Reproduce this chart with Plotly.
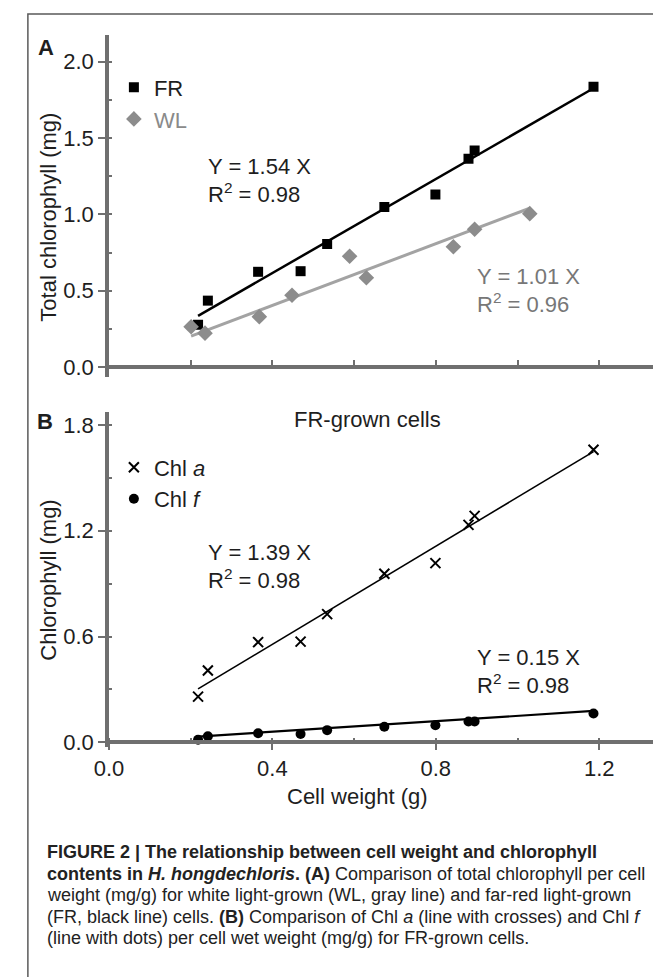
import plotly.graph_objects as go

# ---------------- data ----------------
cell_weight_fr = [0.218, 0.242, 0.365, 0.469, 0.534, 0.674, 0.799, 0.880, 0.895, 1.186]
total_chl_fr = [0.277, 0.435, 0.624, 0.628, 0.806, 1.048, 1.130, 1.365, 1.419, 1.837]
cell_weight_wl = [0.201, 0.235, 0.368, 0.448, 0.589, 0.630, 0.843, 0.895, 1.030]
total_chl_wl = [0.264, 0.222, 0.330, 0.470, 0.726, 0.585, 0.788, 0.903, 1.005]

cell_weight_b = [0.218, 0.242, 0.365, 0.469, 0.534, 0.674, 0.799, 0.880, 0.895, 1.186]
chl_a = [0.259, 0.407, 0.568, 0.571, 0.727, 0.956, 1.016, 1.233, 1.284, 1.659]
chl_f = [0.015, 0.034, 0.051, 0.047, 0.069, 0.088, 0.097, 0.118, 0.118, 0.163]

slope_fr, slope_wl, slope_a, slope_f = 1.54, 1.01, 1.39, 0.15
r2_fr, r2_wl, r2_a, r2_f = 0.98, 0.96, 0.98, 0.98

x_ticks_b = [0.0, 0.4, 0.8, 1.2]
x_tick_labels_b = ["0.0", "0.4", "0.8", "1.2"]

# ---------------- layout helpers ----------------
W, H = 661, 977
OFF = 8  # page body margin: positions below are given in page pixels
def px(x):
    return (x - OFF) / W
def py(y):
    return 1 - (y - OFF) / H

AX = "#6f6f6f"
TXT = "#1e1e1e"
FONT = "Liberation Sans, Arial, Helvetica, sans-serif"

PX_PER_UNIT = 418.0
x_left = px(96)
XR = [0, (W - (96 - OFF)) / PX_PER_UNIT]
YRA = [-0.065, 2.177]
YRB = [-0.026, 1.875]
domA = [py(380), py(35)]
domB = [py(753), py(415)]
posA = domA[0] + (0 - YRA[0]) / (YRA[1] - YRA[0]) * (domA[1] - domA[0])
posB = domB[0] + (0 - YRB[0]) / (YRB[1] - YRB[0]) * (domB[1] - domB[0])

def fit_line(xs, slope):
    x0, x1 = min(xs), max(xs)
    return [x0, x1], [slope * x0, slope * x1]

fig = go.Figure()

# Panel A
lx, ly = fit_line(cell_weight_wl, slope_wl)
fig.add_trace(go.Scatter(x=lx, y=ly, mode="lines", line=dict(color="#a3a3a3", width=3),
                         showlegend=False, xaxis="x", yaxis="y"))
lx, ly = fit_line(cell_weight_fr, slope_fr)
fig.add_trace(go.Scatter(x=lx, y=ly, mode="lines", line=dict(color="black", width=2.5),
                         showlegend=False, xaxis="x", yaxis="y"))
fig.add_trace(go.Scatter(x=cell_weight_fr, y=total_chl_fr, mode="markers", name="FR",
                         marker=dict(symbol="square", size=10, color="black"),
                         xaxis="x", yaxis="y", legend="legend"))
fig.add_trace(go.Scatter(x=cell_weight_wl, y=total_chl_wl, mode="markers",
                         name="<span style='color:#8a8a8a'>WL</span>",
                         marker=dict(symbol="diamond", size=12, color="#8c8c8c"),
                         xaxis="x", yaxis="y", legend="legend"))

# Panel B
lx, ly = fit_line(cell_weight_b, slope_a)
fig.add_trace(go.Scatter(x=lx, y=ly, mode="lines", line=dict(color="black", width=1.6),
                         showlegend=False, xaxis="x2", yaxis="y2"))
lx, ly = fit_line(cell_weight_b, slope_f)
fig.add_trace(go.Scatter(x=lx, y=ly, mode="lines", line=dict(color="black", width=2.2),
                         showlegend=False, xaxis="x2", yaxis="y2"))
fig.add_trace(go.Scatter(x=cell_weight_b, y=chl_a, mode="markers", name="Chl <i>a</i>",
                         marker=dict(symbol="x-thin", size=10, color="black",
                                     line=dict(width=2, color="black")),
                         xaxis="x2", yaxis="y2", legend="legend2"))
fig.add_trace(go.Scatter(x=cell_weight_b, y=chl_f, mode="markers", name="Chl <i>f</i>",
                         marker=dict(symbol="circle", size=10, color="black"),
                         xaxis="x2", yaxis="y2", legend="legend2"))

common_axis = dict(showline=True, linecolor=AX, linewidth=3.5, showgrid=False, zeroline=False,
                   tickcolor=AX, tickwidth=2, tickfont=dict(size=22, color=TXT, family=FONT))

fig.update_layout(
    width=W, height=H, autosize=False,
    margin=dict(l=0, r=0, t=0, b=0),
    paper_bgcolor="white", plot_bgcolor="rgba(0,0,0,0)",
    font=dict(family=FONT, size=22, color=TXT),
    xaxis=dict(domain=[x_left, 1.0], range=XR, anchor="free", position=posA,
               ticks="inside", ticklen=5, dtick=0.2, tick0=0, showticklabels=False,
               **common_axis),
    yaxis=dict(domain=domA, range=YRA, anchor="x", ticks="outside", ticklen=7,
               dtick=0.5, tick0=0, tickformat=".1f",
               minor=dict(ticks="inside", ticklen=3, dtick=0.25, tick0=0, tickwidth=2, tickcolor=AX),
               **common_axis),
    xaxis2=dict(domain=[x_left, 1.0], range=XR, anchor="free", position=posB,
                ticks="outside", ticklen=6, tickvals=x_ticks_b, ticktext=x_tick_labels_b,
                minor=dict(ticks="inside", ticklen=3, dtick=0.2, tick0=0, tickwidth=2, tickcolor=AX),
                **common_axis),
    yaxis2=dict(domain=domB, range=YRB, anchor="x2", ticks="outside", ticklen=7,
                dtick=0.6, tick0=0, tickformat=".1f",
                minor=dict(ticks="inside", ticklen=3, dtick=0.3, tick0=0, tickwidth=2, tickcolor=AX),
                **common_axis),
    legend=dict(x=px(101), y=py(67), xanchor="left", yanchor="top", bgcolor="rgba(0,0,0,0)",
                font=dict(size=22, color=TXT), tracegroupgap=0, itemwidth=30),
    legend2=dict(x=px(101), y=py(450), xanchor="left", yanchor="top", bgcolor="rgba(0,0,0,0)",
                 font=dict(size=22, color=TXT), tracegroupgap=0, itemwidth=30),
)

ann = []
def add_text(text, x, y, xanchor="left", size=22, color=TXT, family=FONT, angle=0):
    ann.append(dict(text=text, x=px(x), y=py(y), xref="paper", yref="paper",
                    xanchor=xanchor, yanchor="middle", showarrow=False, textangle=angle,
                    font=dict(size=size, color=color, family=family)))

add_text("<b>A</b>", 32, 48, xanchor="center")
add_text("<b>B</b>", 30, 425, xanchor="center")
add_text("Total chlorophyll (mg)", 34, 219, xanchor="center", angle=-90)
add_text("Chlorophyll (mg)", 34, 585, xanchor="center", angle=-90)
add_text("Cell weight (g)", 350, 803, xanchor="center")
add_text("FR-grown cells", 360, 423, xanchor="center")

add_text(f"Y = {slope_fr:.2f} X", 195, 168)
add_text(f"R<sup>2</sup> = {r2_fr:.2f}", 195, 195)
add_text(f"Y = {slope_wl:.2f} X", 471, 279, color="#777777")
add_text(f"R<sup>2</sup> = {r2_wl:.2f}", 471, 305.5, color="#777777")
add_text(f"Y = {slope_a:.2f} X", 195, 557)
add_text(f"R<sup>2</sup> = {r2_a:.2f}", 195, 584)
add_text(f"Y = {slope_f:.2f} X", 471, 663)
add_text(f"R<sup>2</sup> = {r2_f:.2f}", 471, 690)

caption = [
    "<b>FIGURE 2 | The relationship between cell weight and chlorophyll</b>",
    "<b>contents in <i>H. hongdechloris</i>. (A)</b> Comparison of total chlorophyll per cell",
    "weight (mg/g) for white light-grown (WL, gray line) and far-red light-grown",
    "(FR, black line) cells. <b>(B)</b> Comparison of Chl <i>a</i> (line with crosses) and Chl <i>f</i>",
    "(line with dots) per cell wet weight (mg/g) for FR-grown cells.",
]
for i, line in enumerate(caption):
    add_text(line, 31, 859 + i * 21.7, size=18, color="#222222")

fig.update_layout(annotations=ann)

fig.add_shape(type="rect", xref="paper", yref="paper", x0=px(13), y0=-0.02, x1=1.02, y1=py(14),
              line=dict(color="#5a5a5a", width=1.5), fillcolor="rgba(0,0,0,0)")

fig.write_html("out.html")
